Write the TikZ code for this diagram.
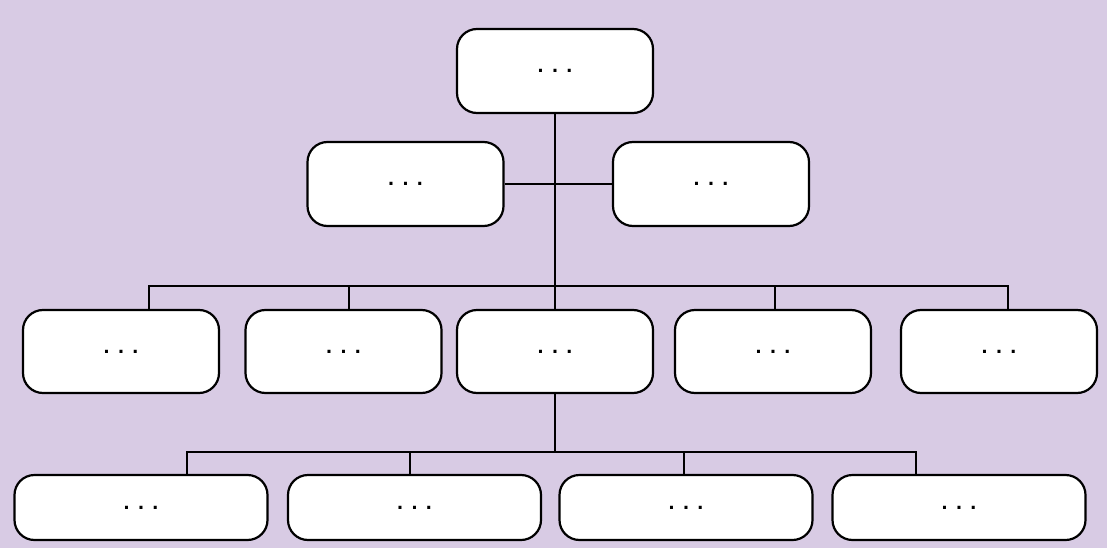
\documentclass[tikz,border=0pt]{standalone}
\usepackage{fontspec}
\setmainfont{DejaVu Sans}
\definecolor{lilac}{RGB}{216,203,228}
\begin{document}
\begin{tikzpicture}
[x=1pt,y=-1pt,line width=1.7pt,%
  box/.style={shape=rectangle,rounded corners=20pt,draw,line width=2.2pt,fill=white,%
    inner sep=0pt,minimum width=196pt,minimum height=84pt,%
    font=\fontsize{17}{20}\selectfont\bfseries},%
  lowbox/.style={box,minimum width=253pt,minimum height=65pt}]
\fill[lilac] (0,0) rectangle (1107,548);
\coordinate (busA) at (0,286);
\coordinate (busB) at (0,452);
% top
\node[box] (top) at (555,71) {. . .};
% side boxes
\node[box] (left) at (405.5,184) {. . .};
\node[box] (right) at (711,184) {. . .};
% middle row
\node[box,minimum height=83pt] (mA) at (121,351.5) {. . .};
\node[box,minimum height=83pt] (mB) at (343.5,351.5) {. . .};
\node[box,minimum height=83pt] (mC) at (555,351.5) {. . .};
\node[box,minimum height=83pt] (mD) at (773,351.5) {. . .};
\node[box,minimum height=83pt] (mE) at (999,351.5) {. . .};
% bottom row
\node[lowbox] (bA) at (141,507.5) {. . .};
\node[lowbox] (bB) at (414.5,507.5) {. . .};
\node[lowbox] (bC) at (686,507.5) {. . .};
\node[lowbox] (bD) at (959,507.5) {. . .};
% lines
\draw (top.south) -- (mC.north);
\draw (left.east) -- (right.west);
\draw ([xshift=28pt]mA.north) -- ([xshift=28pt]mA.north |- busA)
  -- ([xshift=9pt]mE.north |- busA) -- ([xshift=9pt]mE.north);
\draw ([xshift=5.5pt]mB.north) -- ([xshift=5.5pt]mB.north |- busA);
\draw ([xshift=2pt]mD.north) -- ([xshift=2pt]mD.north |- busA);
\draw (mC.south) -- (mC.south |- busB);
\draw ([xshift=46pt]bA.north) -- ([xshift=46pt]bA.north |- busB)
  -- ([xshift=-43pt]bD.north |- busB) -- ([xshift=-43pt]bD.north);
\draw ([xshift=-4.5pt]bB.north) -- ([xshift=-4.5pt]bB.north |- busB);
\draw ([xshift=-2pt]bC.north) -- ([xshift=-2pt]bC.north |- busB);
\end{tikzpicture}
\end{document}
